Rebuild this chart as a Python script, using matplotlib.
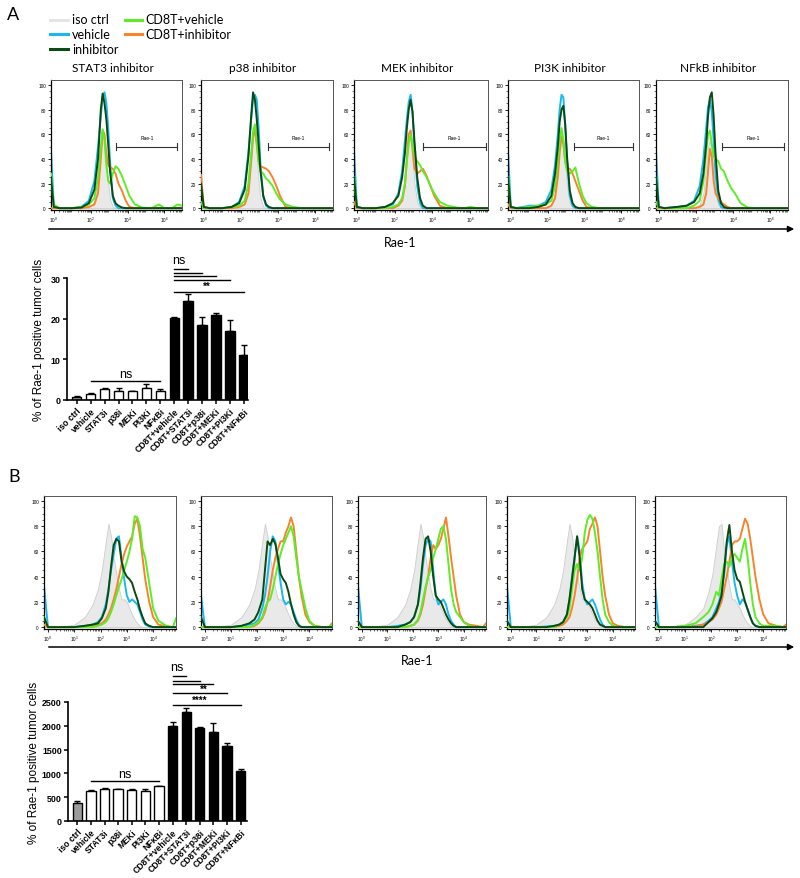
import numpy as np
import matplotlib
matplotlib.use('Agg')
import matplotlib.pyplot as plt
from matplotlib.patches import FancyArrowPatch
from matplotlib.lines import Line2D
from matplotlib.ticker import MultipleLocator, FixedLocator

W, H = 800, 879

# ---------- histogram data (x in log10 units of Rae-1 fluorescence, y = % of max) ----------
a_titles = ['STAT3 inhibitor', 'p38 inhibitor', 'MEK inhibitor', 'PI3K inhibitor', 'NFkB inhibitor']
a_x = [-0.15, 0.0, 0.3, 1.0, 1.5, 1.9, 2.2, 2.4, 2.55, 2.65, 2.75, 2.85, 2.95, 3.05,
       3.2, 3.35, 3.5, 3.7, 3.9, 4.1, 4.4, 4.8, 5.3, 5.7, 6.0, 6.4, 6.7, 6.95]
a_iso = [
    [0, 0, 0, 0, 0, 0.5, 5, 20, 45, 62, 55, 38, 20, 7, 1, 0, 0, 0, 0, 0, 0, 0, 0, 0, 0, 0, 0, 0],
    [0, 0, 0, 0, 0, 0.5, 4, 15, 40, 58, 60, 42, 22, 8, 1, 0, 0, 0, 0, 0, 0, 0, 0, 0, 0, 0, 0, 0],
    [0, 0, 0, 0, 0, 0, 3, 10, 28, 45, 58, 60, 42, 20, 5, 1, 0, 0, 0, 0, 0, 0, 0, 0, 0, 0, 0, 0],
    [0, 0, 0, 0, 0, 0, 3, 12, 32, 50, 60, 58, 38, 18, 4, 0, 0, 0, 0, 0, 0, 0, 0, 0, 0, 0, 0, 0],
    [0, 0, 0, 0, 0, 0, 3, 12, 35, 50, 55, 45, 28, 12, 3, 0, 0, 0, 0, 0, 0, 0, 0, 0, 0, 0, 0, 0],
]
a_vehicle = [
    [47, 2, 0, 0, 1, 6, 22, 50, 75, 90, 94, 85, 65, 38, 8, 2, 0, 0, 0, 0, 0, 0, 0, 0, 0, 0, 0, 0],
    [10, 0, 0, 0, 1, 5, 18, 45, 72, 88, 92, 88, 65, 35, 9, 2, 0, 0, 0, 0, 0, 0, 0, 0, 0, 0, 0, 0],
    [47, 1, 0, 0, 1, 3, 12, 30, 55, 72, 86, 92, 78, 50, 18, 4, 0, 0, 0, 0, 0, 0, 0, 0, 0, 0, 0, 0],
    [47, 1, 0, 2, 2, 5, 15, 35, 60, 80, 92, 90, 68, 38, 10, 2, 0, 0, 0, 0, 0, 0, 0, 0, 0, 0, 0, 0],
    [47, 1, 0, 1, 2, 6, 18, 40, 65, 82, 88, 78, 55, 28, 7, 1, 0, 0, 0, 0, 0, 0, 0, 0, 0, 0, 0, 0],
]
a_inhibitor = [
    [25, 1, 0, 0, 0.5, 4, 15, 40, 80, 93, 85, 72, 52, 30, 10, 4, 2, 0.5, 0, 0, 0, 0, 0, 0, 0, 0, 0, 0],
    [20, 1, 0, 0, 1, 4, 15, 42, 75, 94, 88, 72, 52, 30, 10, 3, 1, 0, 0, 0, 0, 0, 0, 0, 0, 0, 0, 0],
    [25, 1, 0, 0, 1, 4, 10, 25, 45, 65, 80, 88, 78, 55, 25, 8, 2, 0, 0, 0, 0, 0, 0, 0, 0, 0, 0, 0],
    [25, 1, 0, 0, 1, 3, 10, 28, 50, 70, 80, 83, 68, 42, 14, 4, 1, 0, 0, 0, 0, 0, 0, 0, 0, 0, 0, 0],
    [25, 1, 0, 1, 2, 5, 12, 28, 52, 75, 90, 94, 75, 45, 14, 4, 1, 0, 0, 0, 0, 0, 0, 0, 0, 0, 0, 0],
]
a_cd8_vehicle = [
    [28, 3, 0, 0, 1, 3, 8, 25, 50, 64, 55, 35, 22, 20, 28, 34, 32, 26, 18, 10, 3, 0.5, 0, 3, 0, 0, 3, 2],
    [5, 0, 0, 0, 1, 2, 6, 20, 45, 62, 68, 55, 38, 30, 28, 24, 22, 18, 12, 7, 3, 1, 0, 0, 0, 0, 0, 0],
    [25, 1, 0, 0, 0, 1, 3, 8, 20, 38, 52, 60, 52, 42, 38, 35, 30, 25, 18, 12, 5, 2, 0.5, 0, 1, 0, 0, 0],
    [25, 1, 0, 1, 2, 3, 6, 18, 38, 55, 65, 55, 38, 30, 28, 30, 33, 20, 10, 4, 1, 0, 0, 0, 0, 0, 0, 0],
    [5, 0, 0, 0, 0, 2, 6, 22, 45, 60, 63, 52, 42, 40, 38, 32, 30, 22, 16, 12, 4, 0.5, 0, 0, 0, 0, 0, 0],
]
a_cd8_inhibitor = [
    [0, 0, 0, 0, 0, 1, 3, 12, 40, 63, 60, 45, 35, 33, 32, 28, 20, 14, 6, 1, 0, 0, 0, 0, 0, 0, 0, 0],
    [27, 1, 0, 0, 0, 1, 3, 12, 38, 58, 63, 52, 38, 34, 33, 32, 30, 25, 18, 10, 1, 0, 0, 0, 0, 0, 0, 0],
    [5, 0, 0, 0, 0, 0, 2, 6, 18, 40, 60, 63, 48, 32, 28, 30, 32, 26, 18, 10, 2, 0, 0, 0, 0, 0, 0, 0],
    [3, 0, 0, 0, 0, 0, 2, 8, 25, 45, 58, 52, 38, 32, 32, 28, 22, 14, 6, 1, 0, 0, 0, 0, 0, 0, 0, 0],
    [0, 0, 0, 0, 0, 0, 1, 3, 12, 30, 48, 42, 22, 12, 8, 5, 3, 1, 0, 0, 0, 0, 0, 0, 0, 0, 0, 0],
]
a_gate_start = [3.4, 3.45, 3.5, 3.4, 3.42]
a_gate_end = [6.7, 6.75, 6.85, 6.63, 6.74]
a_gate_level = 50

b_x = [-0.15, 0.0, 0.5, 1.0, 1.4, 1.7, 1.9, 2.05, 2.2, 2.3, 2.4, 2.5, 2.6, 2.7, 2.8,
       2.9, 3.0, 3.1, 3.2, 3.3, 3.4, 3.5, 3.6, 3.7, 3.85, 4.0, 4.2, 4.5, 4.75, 4.87]
b_iso = [
    [0, 0, 0.5, 2, 8, 18, 30, 45, 68, 82, 72, 55, 42, 30, 22, 22, 20, 15, 10, 6, 3, 1, 0, 0, 0, 0, 0, 0, 0, 0],
    [0, 0, 0.5, 2, 8, 18, 30, 45, 68, 82, 72, 55, 42, 30, 22, 22, 20, 15, 10, 6, 3, 1, 0, 0, 0, 0, 0, 0, 0, 0],
    [0, 0, 0.5, 2, 8, 18, 30, 45, 68, 82, 72, 55, 42, 30, 22, 22, 20, 15, 10, 6, 3, 1, 0, 0, 0, 0, 0, 0, 0, 0],
    [0, 0, 0.5, 2, 8, 18, 30, 45, 68, 82, 72, 55, 42, 30, 22, 22, 20, 15, 10, 6, 3, 1, 0, 0, 0, 0, 0, 0, 0, 0],
    [0, 0, 0.5, 2, 8, 15, 28, 42, 65, 80, 82, 60, 48, 32, 22, 22, 18, 15, 10, 6, 3, 1, 0, 0, 0, 0, 0, 0, 0, 0],
]
b_vehicle = [
    [33, 0, 0, 0, 1, 2, 4, 8, 18, 30, 45, 58, 70, 72, 55, 38, 25, 20, 22, 20, 18, 12, 6, 2, 0.5, 0, 0, 0, 0, 0],
    [25, 0, 0, 0, 1, 2, 3, 6, 15, 25, 40, 60, 72, 68, 50, 35, 22, 18, 20, 18, 12, 6, 2, 0, 0, 0, 0, 0, 0, 0],
    [33, 0, 0, 0, 1, 2, 4, 8, 18, 30, 50, 65, 70, 68, 45, 25, 18, 20, 22, 18, 10, 5, 2, 0, 0, 0, 0, 0, 0, 0],
    [33, 0, 0, 0, 0.5, 1, 2, 4, 10, 22, 40, 55, 72, 60, 35, 22, 18, 20, 22, 18, 12, 6, 2, 0, 0, 0, 0, 0, 0, 0],
    [33, 0, 0, 0, 1, 2, 5, 8, 15, 20, 28, 42, 65, 72, 52, 35, 25, 18, 22, 20, 14, 8, 3, 1, 0, 0, 0, 0, 0, 0],
]
b_inhibitor = [
    [8, 0, 0, 0, 1, 2, 3, 7, 15, 28, 48, 65, 70, 68, 52, 44, 40, 38, 35, 28, 22, 14, 8, 3, 1, 0, 0, 0, 0, 0],
    [8, 0, 0, 0, 1, 3, 6, 12, 22, 45, 68, 65, 70, 66, 55, 42, 38, 35, 28, 18, 10, 4, 1, 0, 0, 0, 0, 0, 0, 0],
    [5, 0, 0, 0, 0, 2, 4, 8, 18, 35, 55, 70, 72, 60, 40, 25, 22, 20, 15, 10, 6, 3, 1, 0, 0, 0, 0, 0, 0, 0],
    [5, 0, 0, 0, 0, 1, 2, 4, 10, 22, 38, 55, 72, 55, 30, 22, 20, 18, 15, 10, 5, 2, 1, 0, 0, 0, 0, 0, 0, 0],
    [5, 0, 0, 0, 0, 0, 4, 7, 12, 18, 25, 45, 68, 81, 60, 45, 38, 36, 28, 20, 14, 8, 3, 1, 0, 0, 0, 0, 0, 0],
]
b_cd8_vehicle = [
    [8, 0, 0, 0, 0, 0, 1, 2, 4, 7, 12, 18, 25, 32, 38, 45, 52, 60, 70, 88, 87, 80, 62, 55, 35, 15, 5, 1, 0, 7],
    [0, 0, 0, 0, 0, 0, 2, 4, 8, 15, 20, 22, 30, 40, 50, 58, 65, 70, 75, 80, 72, 55, 40, 30, 15, 5, 1, 0, 0, 2],
    [0, 0, 0, 0, 0, 0, 1, 2, 6, 12, 22, 32, 40, 45, 55, 62, 70, 78, 80, 70, 50, 30, 18, 12, 8, 4, 1, 0, 0, 0],
    [0, 0, 0, 0, 0, 0, 2, 4, 8, 15, 30, 45, 50, 45, 55, 75, 85, 89, 86, 75, 60, 40, 22, 10, 4, 1, 0, 0, 0, 0],
    [0, 0, 0, 1, 3, 8, 12, 18, 28, 25, 38, 50, 52, 48, 55, 58, 55, 52, 62, 70, 55, 35, 18, 8, 3, 1, 1, 1, 0, 0],
]
b_cd8_inhibitor = [
    [2, 0, 0, 0, 0, 1, 2, 3, 6, 10, 15, 22, 30, 40, 50, 58, 64, 68, 72, 82, 86, 72, 55, 38, 20, 8, 2, 0.5, 0, 0],
    [0, 0, 0, 0, 0, 0, 1, 3, 7, 12, 20, 32, 45, 55, 62, 68, 68, 75, 80, 87, 80, 60, 40, 25, 10, 4, 1, 0, 0, 3],
    [0, 0, 0, 0, 0, 0, 1, 2, 5, 10, 18, 30, 40, 55, 65, 62, 65, 70, 78, 87, 72, 55, 40, 25, 10, 4, 2, 1, 0, 3],
    [0, 0, 0, 0, 0, 0, 1, 2, 5, 8, 15, 25, 38, 55, 62, 65, 68, 78, 82, 87, 80, 60, 40, 25, 10, 3, 1, 0, 0, 0],
    [0, 0, 0, 0, 0.5, 2, 4, 6, 10, 15, 20, 30, 40, 52, 65, 68, 68, 70, 78, 86, 82, 70, 55, 40, 22, 10, 3, 1, 0, 2],
]

# ---------- bar chart data ----------
bar_labels = ['iso ctrl', 'vehicle', 'STAT3i', 'p38i', 'MEKi', 'PI3Ki', 'NF\u03baBi',
              'CD8T+vehicle', 'CD8T+STAT3i', 'CD8T+p38i', 'CD8T+MEKi', 'CD8T+PI3Ki', 'CD8T+NF\u03baBi']
a_pct = [0.8, 1.5, 2.8, 2.3, 2.1, 3.0, 2.3, 20.3, 24.4, 18.4, 21.0, 16.9, 11.1]
a_pct_err = [0.15, 0.15, 0.2, 0.6, 0.2, 0.85, 0.3, 0.25, 1.8, 2.1, 0.5, 2.8, 2.5]
b_mfi = [370, 620, 670, 665, 655, 630, 735, 1990, 2290, 1960, 1880, 1580, 1050]
b_mfi_err = [40, 25, 25, 10, 12, 40, 10, 80, 80, 20, 170, 60, 50]

# significance brackets: CD8T+vehicle (bar 7) vs bars 8..12, heights in data units
sig_targets = [8, 9, 10, 11, 12]
a_sig_levels = [32.2, 31.4, 30.5, 29.6, 26.6]
b_sig_levels = [3040, 2947, 2871, 2688, 2443]
a_ns_low, b_ns_low = 4.6, 834

CYAN = '#19b9ef'
DKGREEN = '#0b4a10'
GREEN = '#5cec28'
ORANGE = '#f7842a'
ISO_FILL = '#e9e9e9'
ISO_EDGE = '#cdcdcd'

plt.rcParams['font.family'] = ['Lato', 'DejaVu Sans']
plt.rcParams['mathtext.default'] = 'regular'

fig = plt.figure(figsize=(W / 100, H / 100), dpi=100)


def box(x0, y0, x1, y1):
    return [x0 / W, 1 - y1 / H, (x1 - x0) / W, (y1 - y0) / H]


def fx(px):
    return px / W


def fy(py):
    return 1 - py / H


def draw_hist(ax, x, iso, veh, inh, cveh, cinh, xmax, majors):
    ax.fill_between(x, 0, iso, facecolor=ISO_FILL, edgecolor=ISO_EDGE, lw=0.6, zorder=1)
    ax.plot(x, veh, color=CYAN, lw=1.4, zorder=2)
    ax.plot(x, cinh, color=ORANGE, lw=1.4, zorder=3)
    ax.plot(x, cveh, color=GREEN, lw=1.4, zorder=4)
    ax.plot(x, inh, color=DKGREEN, lw=1.4, zorder=5)
    ax.set_xlim(-0.15, xmax)
    ax.set_ylim(-1.5, 104)
    ax.set_yticks([0, 20, 40, 60, 80, 100])
    ax.yaxis.set_minor_locator(MultipleLocator(5))
    ax.set_xticks(majors)
    ax.set_xticklabels(['$10^{%d}$' % k for k in majors])
    minors = [k + np.log10(m) for k in range(0, int(xmax) + 1) for m in range(2, 10)]
    ax.xaxis.set_minor_locator(FixedLocator([v for v in minors if v < xmax]))
    ax.tick_params(which='major', length=2.2, width=0.6, labelsize=3.4, pad=1.5,
                   labelfontfamily='Liberation Sans')
    ax.tick_params(which='minor', length=1.2, width=0.4)
    for side in ['left', 'bottom']:
        ax.spines[side].set_linewidth(0.9)
    for side in ['top', 'right']:
        ax.spines[side].set_linewidth(0.7)
        ax.spines[side].set_color('#555555')


# ---------- panel A histograms ----------
a_left = [51, 201, 354, 508, 656]
a_right = [182, 333, 488, 639, 788]
for i in range(5):
    ax = fig.add_axes(box(a_left[i], 81, a_right[i], 211))
    draw_hist(ax, a_x, a_iso[i], a_vehicle[i], a_inhibitor[i], a_cd8_vehicle[i],
              a_cd8_inhibitor[i], 6.95, [0, 2, 4, 6])
    s, e = a_gate_start[i], a_gate_end[i]
    ax.plot([s, e], [a_gate_level, a_gate_level], color='#333333', lw=0.8)
    ax.plot([s, s], [a_gate_level - 2.5, a_gate_level + 2.5], color='#333333', lw=0.8)
    ax.plot([e, e], [a_gate_level - 2.5, a_gate_level + 2.5], color='#333333', lw=0.8)
    ax.text((s + e) / 2, a_gate_level + 7, 'Rae-1', ha='center', va='center', fontsize=3.5,
            family='Liberation Sans')
    fig.text(fx((a_left[i] + a_right[i]) / 2 - 4), fy(69), a_titles[i], ha='center', va='center',
             fontsize=8.5)

# ---------- panel B histograms ----------
b_left = [44, 201, 358, 507, 655]
b_right = [176, 332, 486, 635, 786]
for i in range(5):
    ax = fig.add_axes(box(b_left[i], 497, b_right[i], 630))
    draw_hist(ax, b_x, b_iso[i], b_vehicle[i], b_inhibitor[i], b_cd8_vehicle[i],
              b_cd8_inhibitor[i], 4.87, [0, 1, 2, 3, 4])

# Rae-1 axis arrows
for y_px, lab_x in [(230, 400), (648, 417)]:
    fig.add_artist(FancyArrowPatch((fx(46), fy(y_px)), (fx(797), fy(y_px)), transform=fig.transFigure,
                                   arrowstyle='-|>', mutation_scale=9, lw=1.1, color='black'))
    fig.text(fx(lab_x), fy(y_px + 13), 'Rae-1', ha='center', va='center', fontsize=9)

# panel letters
fig.text(fx(13), fy(15), 'A', ha='center', va='center', fontsize=13)
fig.text(fx(14), fy(477), 'B', ha='center', va='center', fontsize=13)

# legend
legend_items = [('iso ctrl', '#e4e4e4', 50, 68, 72, 20.5),
                ('vehicle', CYAN, 50, 68, 72, 35),
                ('inhibitor', DKGREEN, 50, 68, 72, 50),
                ('CD8T+vehicle', GREEN, 125, 142, 145, 20.5),
                ('CD8T+inhibitor', ORANGE, 125, 142, 145, 35)]
for lab, col, x0, x1, tx, ty in legend_items:
    fig.add_artist(Line2D([fx(x0), fx(x1)], [fy(ty), fy(ty)], color=col, lw=2.2,
                          transform=fig.transFigure))
    fig.text(fx(tx), fy(ty), lab, ha='left', va='center', fontsize=9)


# ---------- bar charts ----------
def draw_bars(ax, vals, errs, ymax, yticks, xlim):
    pos = np.arange(len(vals))
    faces = ['#9c9c9c'] + ['white'] * 6 + ['black'] * 6
    ax.errorbar(pos, vals, yerr=[np.zeros(len(errs)), errs], fmt='none', ecolor='black',
                elinewidth=1.0, capsize=2.2, capthick=1.0, zorder=1)
    ax.bar(pos, vals, width=0.68, color=faces, edgecolor='black', linewidth=1.0, zorder=2)
    ax.set_xlim(*xlim)
    ax.set_ylim(0, ymax)
    ax.set_yticks(yticks)
    ax.set_xticks(pos)
    ax.set_xticklabels(bar_labels, rotation=45, ha='right', va='top', rotation_mode='anchor',
                       fontsize=6.2, fontweight='bold', family='Liberation Sans')
    for t in ax.get_yticklabels():
        t.set_fontweight('bold')
        t.set_family('Liberation Sans')
    ax.tick_params(axis='y', labelsize=6.4, length=3, width=1.1, pad=1.5)
    ax.tick_params(axis='x', length=3, width=1.1, pad=1.5)
    for side in ['top', 'right']:
        ax.spines[side].set_visible(False)
    for side in ['left', 'bottom']:
        ax.spines[side].set_linewidth(1.2)
    ax.set_ylabel('% of Rae-1 positive tumor cells', fontsize=8.5, family='Liberation Sans')


def draw_sig(ax, levels, ns_low, ns_top_y, star_labels, star_y, ns_low_text_y):
    for tgt, lev in zip(sig_targets, levels):
        ax.plot([7, tgt], [lev, lev], color='black', lw=1.0, clip_on=False)
    ax.text(7.3, ns_top_y, 'ns', ha='center', va='center', fontsize=9, family='Liberation Sans')
    for lab, xs, ys in zip(star_labels, [9.3, 9.0], star_y):
        ax.text(xs, ys, lab, ha='center', va='center', fontsize=7, fontweight='bold',
                family='Liberation Sans')
    ax.plot([1, 6], [ns_low, ns_low], color='black', lw=1.0)
    ax.text(3.5, ns_low_text_y, 'ns', ha='center', va='center', fontsize=9, family='Liberation Sans')


axA = fig.add_axes(box(66.7, 279.3, 248, 401))
draw_bars(axA, a_pct, a_pct_err, 30, [0, 10, 20, 30], (-0.72, 12.29))
axA.yaxis.set_label_coords(-0.118, 0.5)
draw_sig(axA, a_sig_levels, a_ns_low, 34.4, ['**'], [28.2], 6.3)

axB = fig.add_axes(box(68, 703, 247, 822))
draw_bars(axB, b_mfi, b_mfi_err, 2500, [0, 500, 1000, 1500, 2000, 2500], (-0.68, 12.46))
axB.yaxis.set_label_coords(-0.155, 0.5)
draw_sig(axB, b_sig_levels, b_ns_low, 3234, ['**', '****'], [2785, 2545], 987)

fig.savefig('out.png', dpi=100)
